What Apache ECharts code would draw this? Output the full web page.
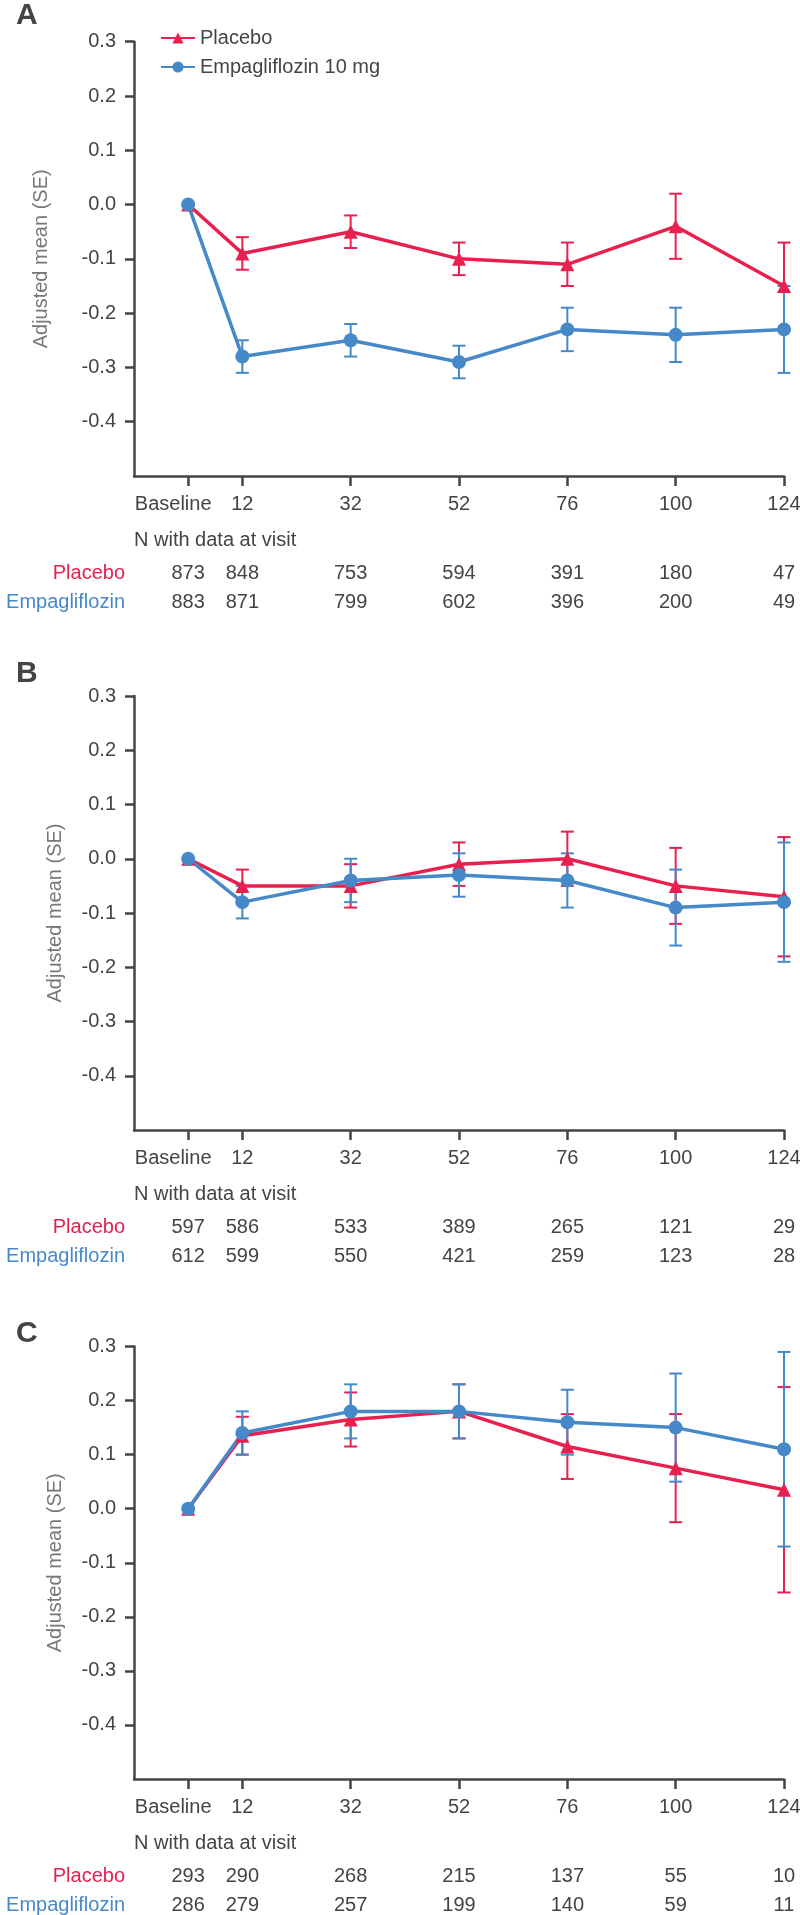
<!DOCTYPE html>
<html>
<head>
<meta charset="utf-8">
<script src="https://cdn.jsdelivr.net/npm/echarts@6/dist/echarts.min.js"></script>
<style>
  html, body { margin: 0; padding: 0; background: #fff; }
  #chart { width: 800px; height: 1915px; }
</style>
</head>
<body>
<div id="chart"></div>
<script>
// visits, plotted at evenly spaced slots (baseline sits half a slot in)
var visitLabels = ['Baseline', '12', '32', '52', '76', '100', '124'];
var visitPos = [0.5, 1, 2, 3, 4, 5, 6];
var yTicks = [-0.4, -0.3, -0.2, -0.1, 0, 0.1, 0.2, 0.3];

// panel A
var placeboMeanA = [0, -0.09, -0.05, -0.10, -0.11, -0.04, -0.15];
var placeboSeA   = [0, 0.03, 0.03, 0.03, 0.04, 0.06, 0.08];
var empaMeanA    = [0, -0.28, -0.25, -0.29, -0.23, -0.24, -0.23];
var empaSeA      = [0, 0.03, 0.03, 0.03, 0.04, 0.05, 0.08];
var placeboNA    = [873, 848, 753, 594, 391, 180, 47];
var empaNA       = [883, 871, 799, 602, 396, 200, 49];

// panel B
var placeboMeanB = [0, -0.05, -0.05, -0.01, 0.00, -0.05, -0.07];
var placeboSeB   = [0, 0.03, 0.04, 0.04, 0.05, 0.07, 0.11];
var empaMeanB    = [0, -0.08, -0.04, -0.03, -0.04, -0.09, -0.08];
var empaSeB      = [0, 0.03, 0.04, 0.04, 0.05, 0.07, 0.11];
var placeboNB    = [597, 586, 533, 389, 265, 121, 29];
var empaNB       = [612, 599, 550, 421, 259, 123, 28];

// panel C
var placeboMeanC = [0, 0.135, 0.165, 0.18, 0.115, 0.075, 0.035];
var placeboSeC   = [0, 0.035, 0.05, 0.05, 0.06, 0.10, 0.19];
var empaMeanC    = [0, 0.14, 0.18, 0.18, 0.16, 0.15, 0.11];
var empaSeC      = [0, 0.04, 0.05, 0.05, 0.06, 0.10, 0.18];
var placeboNC    = [293, 290, 268, 215, 137, 55, 10];
var empaNC       = [286, 279, 257, 199, 140, 59, 11];

var RED = '#E8204F';
var BLUE = '#4689C9';
var INK = '#444';
var FONT = '"Liberation Sans", Arial, sans-serif';

var panels = [
  { letter: 'A', letterTop: 1, top: 41.7, height: 434.3, nameGap: 83,
    pm: placeboMeanA, ps: placeboSeA, em: empaMeanA, es: empaSeA, pn: placeboNA, en: empaNA },
  { letter: 'B', letterTop: 659, top: 696, height: 434, nameGap: 69,
    pm: placeboMeanB, ps: placeboSeB, em: empaMeanB, es: empaSeB, pn: placeboNB, en: empaNB },
  { letter: 'C', letterTop: 1319, top: 1346.5, height: 432.5, nameGap: 69,
    pm: placeboMeanC, ps: placeboSeC, em: empaMeanC, es: empaSeC, pn: placeboNC, en: empaNC }
];

function errorBars(color) {
  return function (params, api) {
    var x = api.value(0);
    var top = api.coord([x, api.value(2)]);
    var bot = api.coord([x, api.value(1)]);
    var w = 6.5;
    var style = { stroke: color, lineWidth: 2 };
    return {
      type: 'group',
      children: [
        { type: 'line', shape: { x1: top[0], y1: top[1], x2: bot[0], y2: bot[1] }, style: style },
        { type: 'line', shape: { x1: top[0] - w, y1: top[1], x2: top[0] + w, y2: top[1] }, style: style },
        { type: 'line', shape: { x1: bot[0] - w, y1: bot[1], x2: bot[0] + w, y2: bot[1] }, style: style }
      ]
    };
  };
}

function errData(mean, se) {
  var out = [];
  visitPos.forEach(function (p, k) {
    if (se[k] > 0) out.push([p, mean[k] - se[k], mean[k] + se[k]]);
  });
  return out;
}

function lineData(mean) {
  return visitPos.map(function (p, k) { return [p, mean[k]]; });
}

// hidden axis used as a text row under the plot
function rowAxis(gi, offset, name, nameColor, values, alignLeft) {
  return {
    type: 'value', gridIndex: gi, min: 0, max: 6, position: 'bottom', offset: offset,
    axisLine: { show: false, onZero: false }, axisTick: { show: false }, splitLine: { show: false },
    axisLabel: values ? {
      show: true, customValues: visitPos, margin: 0, verticalAlign: 'middle',
      hideOverlap: false, fontSize: 20, color: INK, fontFamily: FONT,
      formatter: function (v) { return String(values[visitPos.indexOf(v)]); }
    } : { show: false },
    name: name, nameLocation: 'start', nameGap: alignLeft ? 0 : 9, nameMoveOverlap: false,
    nameTextStyle: { fontSize: 20, color: nameColor, fontFamily: FONT,
      align: alignLeft ? 'left' : 'right', verticalAlign: 'middle' }
  };
}

var grid = [], xAxis = [], yAxis = [], series = [], title = [];

panels.forEach(function (pn, i) {
  grid.push({ left: 134, width: 650, top: pn.top, height: pn.height, outerBoundsMode: 'none' });

  title.push({ text: pn.letter, left: 16, top: pn.letterTop, padding: 0,
    textStyle: { fontSize: 30, fontWeight: 'bold', color: INK, fontFamily: FONT } });

  xAxis.push({
    type: 'value', gridIndex: i, min: 0, max: 6, position: 'bottom',
    axisLine: { show: true, onZero: false, lineStyle: { color: INK, width: 2.5 } },
    axisTick: { show: true, customValues: visitPos, length: 10, lineStyle: { color: INK, width: 2.5 } },
    splitLine: { show: false },
    axisLabel: {
      customValues: visitPos, margin: 18, hideOverlap: false,
      fontSize: 20, color: INK, fontFamily: FONT,
      formatter: function (v) {
        var k = visitPos.indexOf(v);
        return k === 0 ? '{base|' + visitLabels[k] + '}' : visitLabels[k];
      },
      rich: { base: { fontSize: 20, color: INK, fontFamily: FONT, padding: [0, 30, 0, 0] } }
    }
  });
  xAxis.push(rowAxis(i, 64, 'N with data at visit', INK, null, true));
  xAxis.push(rowAxis(i, 97, 'Placebo', RED, pn.pn, false));
  xAxis.push(rowAxis(i, 126, 'Empagliflozin', BLUE, pn.en, false));

  yAxis.push({
    type: 'value', gridIndex: i, min: -0.5, max: 0.3, interval: 0.1,
    axisLine: { show: true, lineStyle: { color: INK, width: 2.5 } },
    axisTick: { show: true, customValues: yTicks, length: 9, lineStyle: { color: INK, width: 2.5 } },
    splitLine: { show: false },
    axisLabel: { customValues: yTicks, margin: 18, fontSize: 20, color: INK, fontFamily: FONT,
      formatter: function (v) { return v.toFixed(1); } },
    name: 'Adjusted mean (SE)', nameLocation: 'middle', nameGap: pn.nameGap, nameMoveOverlap: false,
    nameTextStyle: { fontSize: 20, color: '#777', fontFamily: FONT }
  });

  var xi = i * 4;
  series.push({ type: 'custom', xAxisIndex: xi, yAxisIndex: i, renderItem: errorBars(RED),
    data: errData(pn.pm, pn.ps), silent: true });
  series.push({ type: 'line', name: 'Placebo', xAxisIndex: xi, yAxisIndex: i,
    data: lineData(pn.pm), symbol: 'triangle', symbolSize: 14,
    lineStyle: { color: RED, width: 3.5 }, itemStyle: { color: RED } });
  series.push({ type: 'custom', xAxisIndex: xi, yAxisIndex: i, renderItem: errorBars(BLUE),
    data: errData(pn.em, pn.es), silent: true });
  series.push({ type: 'line', name: 'Empagliflozin 10 mg', xAxisIndex: xi, yAxisIndex: i,
    data: lineData(pn.em), symbol: 'circle', symbolSize: 14,
    lineStyle: { color: BLUE, width: 3.5 }, itemStyle: { color: BLUE } });
});

var chart = echarts.init(document.getElementById('chart'), null, { renderer: 'canvas' });
chart.setOption({
  animation: false,
  textStyle: { fontFamily: FONT },
  title: title,
  legend: {
    data: ['Placebo', 'Empagliflozin 10 mg'],
    orient: 'vertical', left: 160, top: 28, padding: 0,
    itemWidth: 34, itemHeight: 14, itemGap: 9,
    textStyle: { fontSize: 20, color: INK, fontFamily: FONT }
  },
  grid: grid,
  xAxis: xAxis,
  yAxis: yAxis,
  series: series
});
</script>
</body>
</html>
